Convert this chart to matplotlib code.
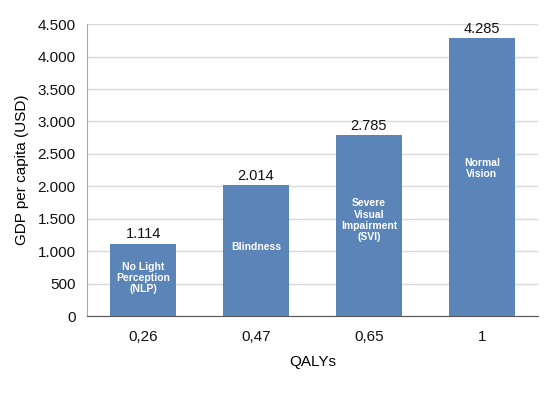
import matplotlib.pyplot as plt
import numpy as np

plt.rcParams['font.family'] = ['Liberation Sans', 'DejaVu Sans']

qalys = ['0,26', '0,47', '0,65', '1']
gdp = [1114, 2014, 2785, 4285]
inner = ['No Light\nPerception\n(NLP)', 'Blindness', 'Severe\nVisual\nImpairment\n(SVI)', 'Normal\nVision']
yticks = [0, 500, 1000, 1500, 2000, 2500, 3000, 3500, 4000, 4500]

def fmt(v):
    # thousands separator with a dot
    return '{:,}'.format(v).replace(',', '.')

fig = plt.figure(figsize=(5.56, 3.96), dpi=100)
ax = fig.add_axes([0.156, 0.202, 0.812, 0.737])

x = np.arange(len(qalys))
ax.bar(x, gdp, width=0.585, color='#5b85b8', zorder=3)

for xi, v, lab in zip(x, gdp, inner):
    ax.text(xi, v + 40, fmt(v), ha='center', va='bottom', fontsize=10.5, color='#111111')
    ax.text(xi, v * 0.53, lab, ha='center', va='center',
            fontsize=7.5, fontweight='bold', color='white', linespacing=1.15, zorder=4)

ax.set_xlim(-0.5, 3.5)
ax.set_ylim(0, 4500)
ax.set_yticks(yticks)
ax.set_yticklabels([fmt(t) for t in yticks])
ax.set_xticks(x)
ax.set_xticklabels(qalys)
ax.tick_params(length=0, labelsize=11, colors='#111111')
ax.tick_params(axis='x', pad=10)
ax.tick_params(axis='y', pad=8)

ax.yaxis.grid(True, color='#d9d9d9', linewidth=1, zorder=0)
for s in ['top', 'right']:
    ax.spines[s].set_visible(False)
ax.spines['left'].set_color('#aaaaaa')
ax.spines['bottom'].set_color('#555555')

ax.set_xlabel('QALYs', fontsize=11, labelpad=8)
ax.set_ylabel('GDP per capita (USD)', fontsize=11, labelpad=6)

fig.savefig('out.png', dpi=100)
